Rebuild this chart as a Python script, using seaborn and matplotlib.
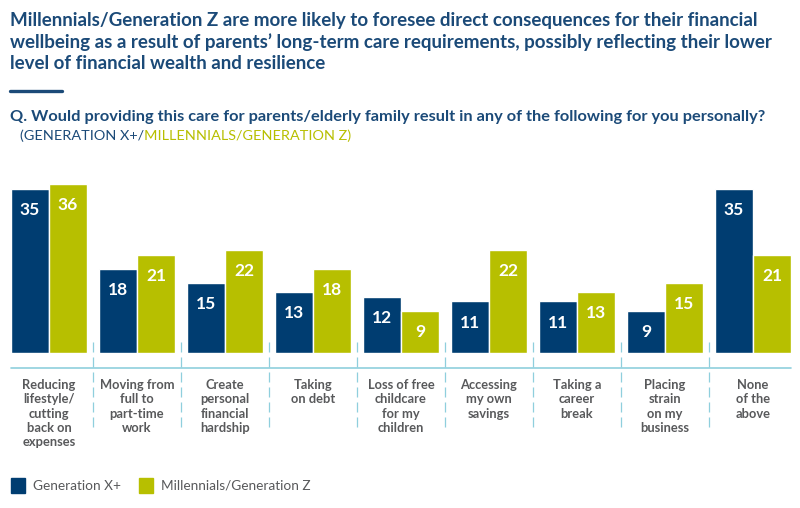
import matplotlib
matplotlib.use("Agg")
import matplotlib.pyplot as plt
import matplotlib.transforms as mtransforms
from matplotlib.lines import Line2D
from matplotlib.patches import Rectangle
import seaborn as sns
import pandas as pd

categories = [
    "Reducing\nlifestyle/\ncutting\nback on\nexpenses",
    "Moving from\nfull to\npart-time\nwork",
    "Create\npersonal\nfinancial\nhardship",
    "Taking\non debt",
    "Loss of free\nchildcare\nfor my\nchildren",
    "Accessing\nmy own\nsavings",
    "Taking a\ncareer\nbreak",
    "Placing\nstrain\non my\nbusiness",
    "None\nof the\nabove",
]
gen_x = [35, 18, 15, 13, 12, 11, 11, 9, 35]
gen_z = [36, 21, 22, 18, 9, 22, 13, 15, 21]
groups = ["Generation X+", "Millennials/Generation Z"]

navy = "#003d71"
green = "#b7bf00"
title_col = "#1b4a78"
grey = "#58595b"
sep_col = "#8fcfdd"

df = pd.DataFrame({
    "category": categories * 2,
    "value": gen_x + gen_z,
    "group": [groups[0]] * len(categories) + [groups[1]] * len(categories),
})

sns.set_style("white")
W, H = 800, 508
fig = plt.figure(figsize=(W / 100, H / 100), dpi=100)

def fx(px):
    return px / W

def fy(py):
    return 1 - py / H

# axes: bar base at y=353 px, ~4.69 px per unit
ax = fig.add_axes([fx(5), fy(353), fx(792), 40 * 4.69 / H])
sns.barplot(data=df, x="category", y="value", hue="group", order=categories,
            palette=[navy, green], width=0.864, gap=0, saturation=1,
            legend=False, ax=ax)
ax.set_ylim(0, 40)
ax.set_xlim(-0.5, len(categories) - 0.5)
ax.set_xlabel("")
ax.set_ylabel("")
ax.set_yticks([])
sns.despine(ax=ax, left=True, bottom=True)
ax.tick_params(axis="x", length=0, pad=19)
for lbl in ax.get_xticklabels():
    lbl.set_fontfamily("Lato")
    lbl.set_fontweight("bold")
    lbl.set_fontsize(9.3)
    lbl.set_color(grey)
    lbl.set_linespacing(1.21)

for cont in ax.containers:
    ax.bar_label(cont, padding=-21, color="white", fontweight="bold",
                 fontsize=12.5, fontfamily="Lato")

# baseline and dashed separators
tr = mtransforms.blended_transform_factory(ax.transData, fig.transFigure)
ax.add_line(Line2D([-0.432, len(categories) - 1 + 0.432], [fy(368), fy(368)],
                   transform=tr, color=sep_col, lw=1.2, clip_on=False))
for i in range(len(categories) - 1):
    ax.add_line(Line2D([i + 0.5, i + 0.5], [fy(342), fy(430)], transform=tr,
                       color=sep_col, lw=0.9, ls=(0, (8, 4)), clip_on=False))

# titles
fig.text(fx(10), fy(12),
         "Millennials/Generation Z are more likely to foresee direct consequences for their financial\n"
         "wellbeing as a result of parents\u2019 long-term care requirements, possibly reflecting their lower\n"
         "level of financial wealth and resilience",
         ha="left", va="top", fontsize=13.5, fontweight="bold", color=title_col,
         fontfamily="Lato", linespacing=1.27)
fig.add_artist(Line2D([fx(10), fx(62)], [fy(91), fy(91)], color=title_col, lw=2.4))
fig.text(fx(10), fy(117),
         "Q. Would providing this care for parents/elderly family result in any of the following for you personally?",
         ha="left", va="center", fontsize=11.8, fontweight="bold", color=title_col,
         fontfamily="Lato")
t1 = fig.text(fx(20), fy(136), "(GENERATION X+/", ha="left", va="center",
              fontsize=10.4, color=title_col, fontfamily="Lato")
fig.canvas.draw()
bb = t1.get_window_extent()
fig.text(bb.x1 / W, fy(136), "MILLENNIALS/GENERATION Z)", ha="left", va="center",
         fontsize=10.4, color=green, fontfamily="Lato")

# legend
for x0, name, col in [(11, groups[0], navy), (139, groups[1], green)]:
    fig.add_artist(Rectangle((fx(x0), fy(493)), fx(14), 15 / H, color=col,
                             transform=fig.transFigure))
    fig.text(fx(x0 + 22), fy(486), name, ha="left", va="center", fontsize=9.8,
             color=grey, fontfamily="Lato")

fig.savefig("out.png", dpi=100)
